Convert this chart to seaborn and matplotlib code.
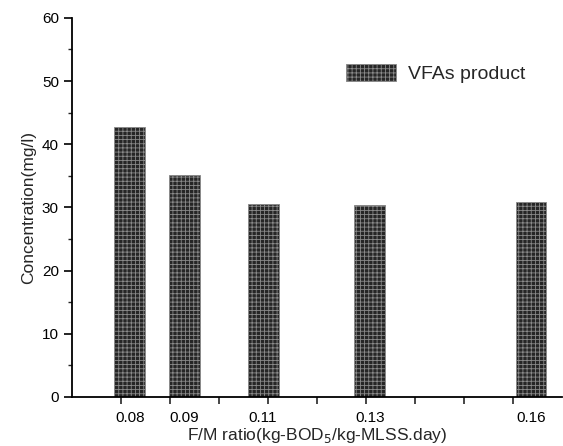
import matplotlib
matplotlib.use("Agg")
import matplotlib.pyplot as plt
import seaborn as sns
import pandas as pd

# data
fm_labels = ["0.08", "0.09", "0.11", "0.13", "0.16"]
vfa_conc = [42.8, 35.1, 30.6, 30.4, 30.9]
# layout: bar positions along the x axis (axis units, uneven as in the original)
bar_pos = [1.18, 2.29, 3.90, 6.08, 9.37]

sns.set_theme(style="ticks")
plt.rcParams["font.family"] = ["Liberation Sans", "DejaVu Sans"]
plt.rcParams["hatch.linewidth"] = 0.6

df = pd.DataFrame({"pos": bar_pos, "conc": vfa_conc})

fig = plt.figure(figsize=(5.63, 4.46), dpi=100)
ax = fig.add_axes([0.128, 0.110, 0.870, 0.850])

sns.barplot(data=df, x="pos", y="conc", native_scale=True, width=0.568,
            color="#262626", saturation=1, ax=ax, label="VFAs product",
            edgecolor="#8a8a8a", linewidth=0.6, hatch="++++", errorbar=None)

ax.set_xlim(0, 10.0)
ax.set_ylim(0, 60)
ax.set_yticks([0, 10, 20, 30, 40, 50, 60])
ax.set_yticks([5, 15, 25, 35, 45, 55], minor=True)
ax.set_xticks(bar_pos)
ax.set_xticklabels(fm_labels)
ax.set_xticks(list(range(1, 10)), minor=True)

ax.tick_params(axis="x", which="major", length=0, pad=10, labelsize=11, colors="black")
ax.tick_params(axis="x", which="minor", length=5, width=1.2, direction="out")
ax.tick_params(axis="y", which="major", length=6, width=1.2, labelsize=11, colors="black")
ax.tick_params(axis="y", which="minor", length=3, width=1.0)

for s in ["top", "right"]:
    ax.spines[s].set_visible(False)
for s in ["left", "bottom"]:
    ax.spines[s].set_linewidth(1.3)
    ax.spines[s].set_color("black")

ax.set_xlabel("F/M ratio(kg-BOD$_5$/kg-MLSS.day)", fontsize=12.5, labelpad=1)
ax.set_ylabel("Concentration(mg/l)", fontsize=12.5, labelpad=4)

ax.legend(loc="upper left", bbox_to_anchor=(328 / 563, 1 - 46 / 446),
          bbox_transform=fig.transFigure, frameon=False, fontsize=14,
          handlelength=2.6, handleheight=1.0, handletextpad=0.6)

fig.savefig("out.png", dpi=100)
